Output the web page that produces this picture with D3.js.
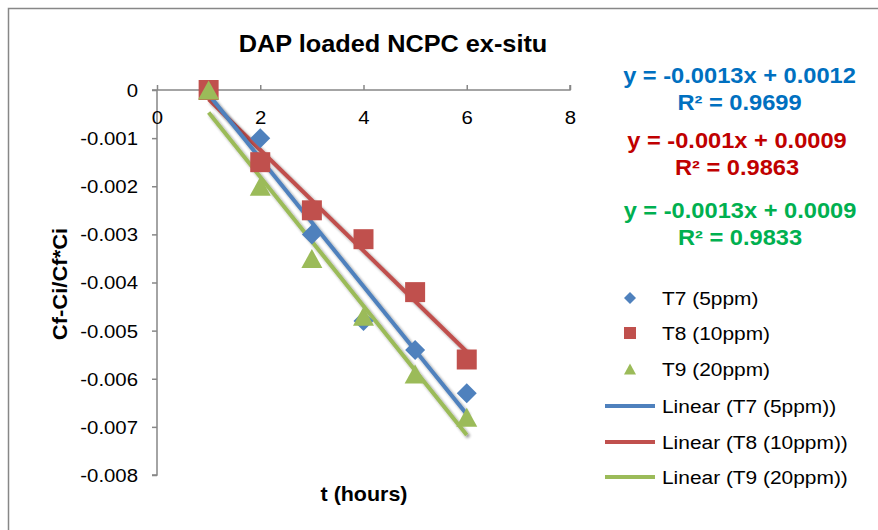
<!DOCTYPE html>
<html>
<head>
<meta charset="utf-8">
<script src="https://cdn.jsdelivr.net/npm/d3@7"></script>
<style>
  html, body { margin: 0; padding: 0; background: #fff; }
  svg { display: block; font-family: "Liberation Sans", Arial, sans-serif; }
</style>
</head>
<body>
<svg id="chart" width="878" height="530"></svg>
<script>
// Time points (hours)
const hours = [1, 2, 3, 4, 5, 6];

// Cf-Ci/Cf*Ci for each treatment
const t7 = [0, -0.001, -0.003, -0.0048, -0.0054, -0.0063];
const t8 = [0, -0.0015, -0.0025, -0.0031, -0.0042, -0.0056];
const t9 = [0, -0.002, -0.0035, -0.0047, -0.0059, -0.0068];

const seriesNames = ["T7 (5ppm)", "T8 (10ppm)", "T9 (20ppm)"];
const rSquared = ["0.9699", "0.9863", "0.9833"];

const xTicks = [0, 2, 4, 6, 8];
const yTicks = [0, -0.001, -0.002, -0.003, -0.004, -0.005, -0.006, -0.007, -0.008];

const markerColors = ["#4F81BD", "#C0504D", "#9BBB59"];
const equationColors = ["#0070C0", "#C00000", "#00B050"];

// Text in this chart is set slightly wide
const SX = 1.1;

const svg = d3.select("#chart");

// Outer chart frame
svg.append("rect")
  .attr("x", 8.5).attr("y", 8.5)
  .attr("width", 900).attr("height", 560)
  .attr("fill", "#fff").attr("stroke", "#878787").attr("stroke-width", 1.5);

const x = d3.scaleLinear().domain([0, 8]).range([157, 570]);
const y = d3.scaleLinear().domain([-0.008, 0]).range([475, 90]);

// Drop shadow used on the trend lines
const defs = svg.append("defs");
const shadow = defs.append("filter").attr("id", "shadow")
  .attr("x", "-10%").attr("y", "-10%").attr("width", "130%").attr("height", "130%");
shadow.append("feGaussianBlur").attr("in", "SourceAlpha").attr("stdDeviation", 1.5).attr("result", "b");
shadow.append("feOffset").attr("dx", 2).attr("dy", 2).attr("result", "o");
shadow.append("feComponentTransfer").append("feFuncA").attr("type", "linear").attr("slope", 0.45);
const merge = shadow.append("feMerge");
merge.append("feMergeNode");
merge.append("feMergeNode").attr("in", "SourceGraphic");

// Helper for widened text
function label(px, py, str, opts = {}) {
  const t = svg.append("text")
    .attr("transform", `translate(${px},${py})${opts.rotate ? ` rotate(${opts.rotate})` : ""} scale(${SX},1)`)
    .attr("text-anchor", opts.anchor || "start")
    .attr("font-size", opts.size || 17)
    .attr("font-weight", opts.bold ? "bold" : null)
    .attr("fill", opts.fill || "#000")
    .text(str);
  if (opts.dy) t.attr("dy", opts.dy);
  return t;
}

// Y axis (left)
const yFormat = d => d === 0 ? "0" : d3.format(".3f")(d).replace("−", "-");
const gy = svg.append("g").attr("transform", `translate(${x(0)},0)`)
  .call(d3.axisLeft(y).tickValues(yTicks).tickSize(5).tickPadding(0).tickFormat(yFormat));
gy.selectAll(".tick text")
  .attr("x", null).attr("dy", "0.35em")
  .attr("transform", `translate(-19,0) scale(${SX},1)`);

// X axis along y = 0 at the top, labels below the line, ticks pointing up
const gx = svg.append("g").attr("transform", `translate(0,${y(0)})`)
  .call(d3.axisTop(x).tickValues(xTicks).tickSize(5).tickPadding(0));
gx.selectAll(".tick text")
  .attr("y", null).attr("dy", null)
  .attr("transform", `translate(0,34) scale(${SX},1)`);

[gx, gy].forEach(g => {
  g.select(".domain").attr("stroke", "#878787").attr("stroke-width", 1.5);
  g.selectAll(".tick line").attr("stroke", "#878787").attr("stroke-width", 1.5);
  g.selectAll(".tick text").attr("fill", "#000").attr("font-size", 18.5)
    .attr("font-family", "'Liberation Sans', Arial, sans-serif");
});
gx.select(".domain").attr("d", `M${x(0)},0H${x(8)}V-5`);
gy.select(".domain").attr("d", `M-5,${y(0)}H0V${y(-0.008)}H-5`);

// Least-squares fit for each series
function fit(xs, ys) {
  const mx = d3.mean(xs), my = d3.mean(ys);
  let sxy = 0, sxx = 0;
  xs.forEach((v, i) => { sxy += (v - mx) * (ys[i] - my); sxx += (v - mx) ** 2; });
  const slope = sxy / sxx;
  return { slope, intercept: my - slope * mx };
}

const allSeries = [t7, t8, t9];
const fits = allSeries.map(s => fit(hours, s));

// Trend lines
const lineGen = d3.line().x(d => x(d[0])).y(d => y(d[1]));
[1, 0, 2].forEach(i => {
  const f = fits[i];
  const ends = [hours[0], hours[hours.length - 1]].map(h => [h, f.slope * h + f.intercept]);
  svg.append("path").datum(ends)
    .attr("d", lineGen)
    .attr("stroke", markerColors[i]).attr("stroke-width", 4)
    .attr("fill", "none").attr("filter", "url(#shadow)");
});

// Marker shapes: diamond (rotated square), square, triangle — all box-centred
function markerPath(kind, w) {
  const h = w / 2;
  if (kind === 0) return `M0,${-h}L${h},0L0,${h}L${-h},0Z`;
  if (kind === 1) return `M${-h},${-h}H${h}V${h}H${-h}Z`;
  const th = w * 0.9;
  return `M0,${-th / 2}L${h},${th / 2}L${-h},${th / 2}Z`;
}
const markerWidths = [20, 20, 21];
allSeries.forEach((s, i) => {
  svg.append("g").selectAll("path").data(s).join("path")
    .attr("transform", (d, j) => `translate(${x(hours[j])},${y(d)})`)
    .attr("d", markerPath(i, markerWidths[i]))
    .attr("fill", markerColors[i]);
});

// Title and axis titles
label(393, 52, "DAP loaded NCPC ex-situ", { anchor: "middle", size: 23, bold: true });
label(364, 501, "t (hours)", { anchor: "middle", size: 19.5, bold: true });
label(67, 284, "Cf-Ci/Cf*Ci", { anchor: "middle", size: 20, bold: true, rotate: -90 });

// Trend line equations
function fmt(v) {
  return Math.abs(v).toFixed(4).replace(/0+$/, "");
}
const eqY = [[83, 110], [148, 175], [218, 245]];
const eqX = [739.5, 737, 740];
fits.forEach((f, i) => {
  const sign = f.intercept >= 0 ? "+" : "-";
  const eq = `y = ${f.slope < 0 ? "-" : ""}${fmt(f.slope)}x ${sign} ${fmt(f.intercept)}`;
  label(eqX[i], eqY[i][0], eq, { anchor: "middle", size: 21.5, bold: true, fill: equationColors[i] });
  label(eqX[i], eqY[i][1], `R² = ${rSquared[i]}`, { anchor: "middle", size: 21.5, bold: true, fill: equationColors[i] });
});

// Legend
const legendRows = [298, 333, 369, 406, 442, 477];
seriesNames.forEach((name, i) => {
  svg.append("path")
    .attr("transform", `translate(630,${legendRows[i]})`)
    .attr("d", markerPath(i, 12))
    .attr("fill", markerColors[i]);
  label(662, legendRows[i], name, { size: 19, dy: "0.35em" });
});
seriesNames.forEach((name, i) => {
  const ry = legendRows[i + 3];
  svg.append("line").attr("x1", 605).attr("x2", 655).attr("y1", ry).attr("y2", ry)
    .attr("stroke", markerColors[i]).attr("stroke-width", 4);
  label(662, ry, `Linear (${name})`, { size: 19, dy: "0.35em" });
});
</script>
</body>
</html>
